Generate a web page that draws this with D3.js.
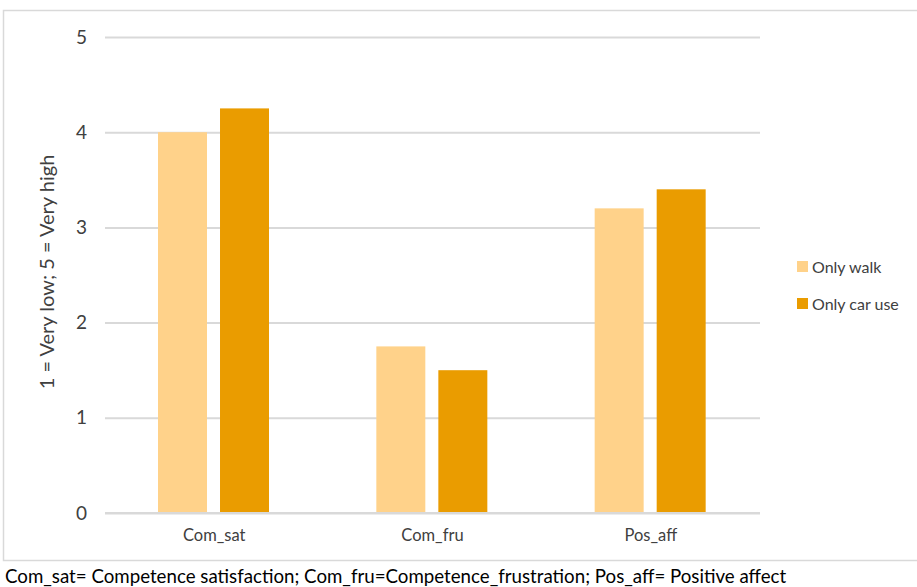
<!DOCTYPE html>
<html><head><meta charset="utf-8">
<script src="https://cdn.jsdelivr.net/npm/d3@7"></script>
<style>body{margin:0;background:#fff}svg{display:block}text{font-family:Lato,"Open Sans",sans-serif}</style>
</head><body>
<svg id="c" width="917" height="587"></svg>
<script>
const categories = ["Com_sat", "Com_fru", "Pos_aff"];
const seriesNames = ["Only walk", "Only car use"];
const onlyWalk = [4.0, 1.75, 3.2];
const onlyCar = [4.25, 1.5, 3.4];
const yTicks = [0, 1, 2, 3, 4, 5];
const colors = ["#FFD28A", "#EA9C00"];
const yLabel = "1 = Very low; 5 = Very high";
const caption = "Com_sat= Competence satisfaction; Com_fru=Competence_frustration; Pos_aff= Positive affect";

(function(){
const svg = d3.select("#c");
svg.append("rect").attr("x",3.5).attr("y",10.5).attr("width",930).attr("height",550)
  .attr("fill","none").attr("stroke","#d9d9d9").attr("stroke-width",1.5);

const mLeft=105, mRight=760, mTop=37, mBottom=513;
const x0 = d3.scaleBand().domain(categories).range([mLeft,mRight]).paddingInner(0).paddingOuter(0);
const y = d3.scaleLinear().domain([0,5]).range([mBottom,mTop]);
const x1 = d3.scaleBand().domain(seriesNames).range([53, 53+111]).paddingInner(0.21).paddingOuter(0);

const yAxis = d3.axisLeft(y).tickValues(yTicks).tickSize(-(mRight-mLeft)).tickFormat(d3.format("d"));
const ga = svg.append("g").attr("transform",`translate(${mLeft},0)`).call(yAxis);
ga.select(".domain").remove();
ga.selectAll(".tick line").attr("stroke","#d9d9d9").attr("stroke-width",2);
ga.selectAll(".tick text").attr("x",-18).attr("font-size",19).attr("fill","#404040");

const data = categories.map((c,i)=>({cat:c, vals:[onlyWalk[i], onlyCar[i]]}));
const g = svg.append("g");
data.forEach(d=>{
  d.vals.forEach((v,j)=>{
    g.append("rect")
      .attr("x", x0(d.cat) + x1(seriesNames[j]))
      .attr("width", x1.bandwidth())
      .attr("y", y(v))
      .attr("height", y(0)-y(v))
      .attr("fill", colors[j]);
  });
});
svg.append("line").attr("x1",mLeft).attr("x2",mRight).attr("y1",y(0)).attr("y2",y(0)).attr("stroke","#d9d9d9").attr("stroke-width",2);

const xAxis = d3.axisBottom(x0).tickSize(0);
const gx = svg.append("g").attr("transform",`translate(0,${mBottom})`).call(xAxis);
gx.select(".domain").remove();
gx.selectAll(".tick text").attr("dy",0).attr("y",28).attr("font-size",16.5).attr("fill","#404040");

svg.append("text").attr("transform","translate(54,272) rotate(-90)").attr("text-anchor","middle")
  .attr("font-size",20).attr("fill","#404040").text(yLabel);

const lg = svg.append("g");
seriesNames.forEach((s,i)=>{
  const yy = 267 + i*37;
  lg.append("rect").attr("x",797).attr("y",yy-6).attr("width",11).attr("height",11).attr("fill",colors[i]);
  lg.append("text").attr("x",812).attr("y",yy+6).attr("font-size",16).attr("fill","#404040").text(s);
});

svg.append("text").attr("x",5).attr("y",583).attr("font-size",18.7).attr("fill","#000").text(caption);
})();
</script>
</body></html>
